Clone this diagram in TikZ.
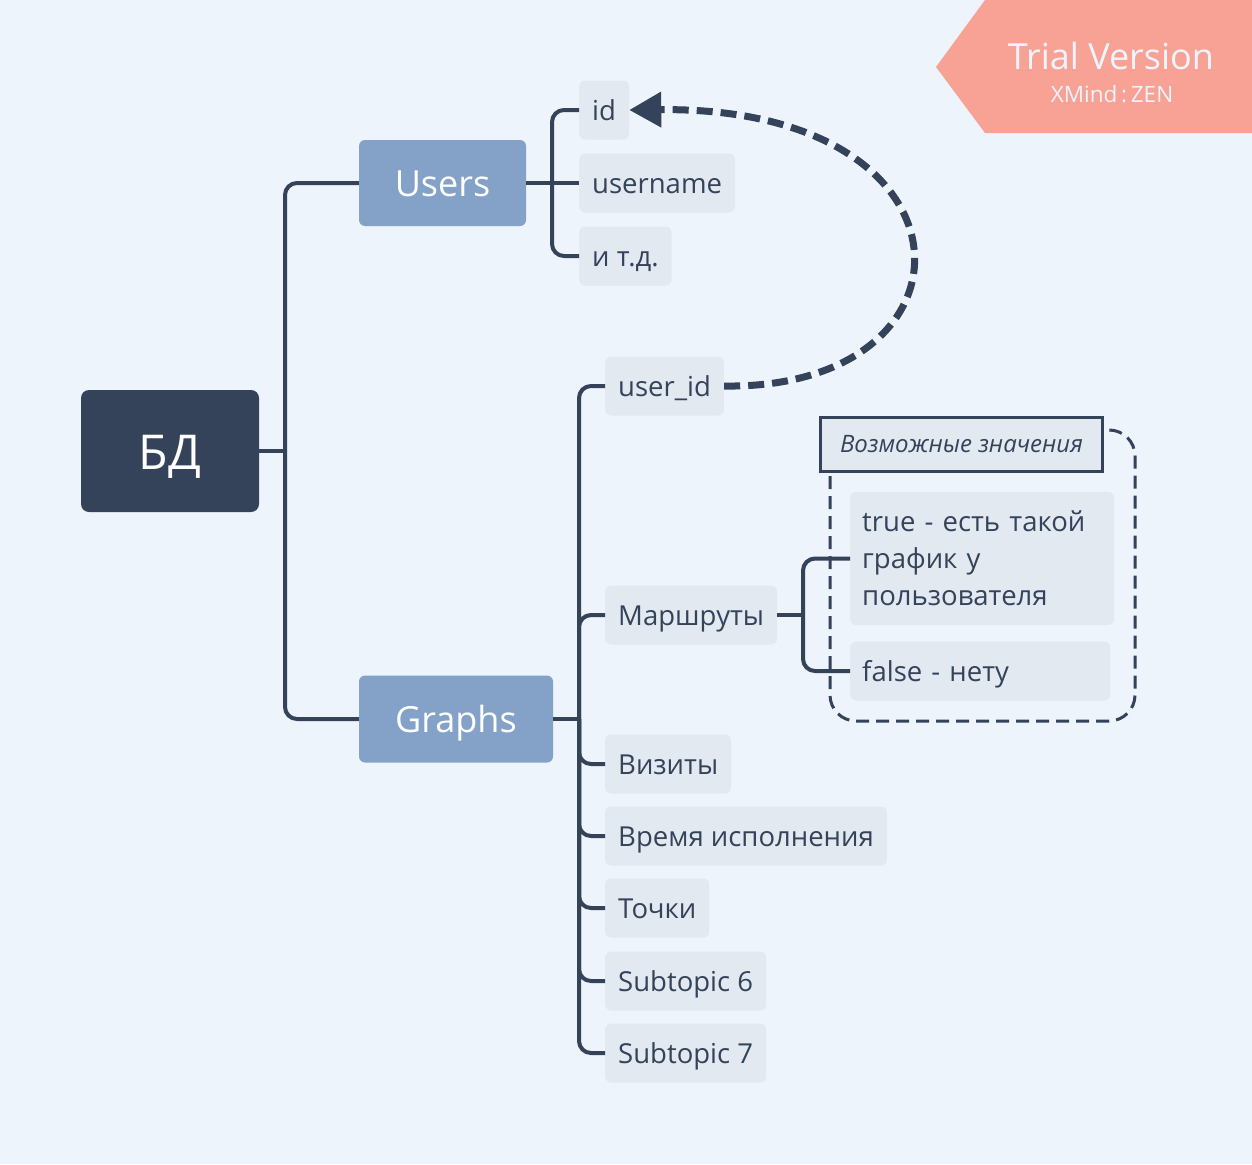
\documentclass[tikz,border=0pt]{standalone}
\usepackage{fontspec}
\setmainfont{Open Sans}
\usetikzlibrary{arrows.meta}
\definecolor{bg}{HTML}{EDF4FB}
\definecolor{dark}{HTML}{344359}
\definecolor{subfill}{HTML}{E2E9F1}
\definecolor{mainfill}{HTML}{84A2C8}
\definecolor{trial}{HTML}{F8A195}
\begin{document}
\begin{tikzpicture}[x=1pt,y=-1pt,
  conn/.style={draw=dark,line width=4pt,rounded corners=12pt},
  subbox/.style={fill=subfill,rounded corners=6pt,anchor=west,minimum height=59pt,inner xsep=13pt,inner ysep=0pt,text=dark,text height=20pt,text depth=0pt,font=\fontsize{27.5}{37}\selectfont},
  mainbox/.style={fill=mainfill,rounded corners=6pt,text=white,font=\fontsize{36}{40}\selectfont,inner sep=0pt,text height=26pt,text depth=0pt},
]
\useasboundingbox (0,0) rectangle (1252,1164);
\fill[bg] (0,0) rectangle (1252,1164);
% trial banner
\fill[trial] (936,67) -- (985,0) -- (1252,0) -- (1252,133) -- (985,133) -- cycle;
\node[text=bg,font=\fontsize{36}{38}\selectfont] (trialtxt) at (1111,56) {Trial Version};
\node[text=bg,font=\fontsize{22.5}{24}\selectfont] (xmind) at (1112,94) {XMind\,:\,ZEN};
% root
\node[fill=dark,rounded corners=8pt,minimum width=178pt,minimum height=122pt,text=white,font=\fontsize{48}{50}\selectfont,inner sep=0pt,text height=36pt,text depth=0pt] (bd) at (170,451) {БД};
\node[mainbox,minimum width=167pt,minimum height=86pt] (users) at (442.5,183) {Users};
\node[mainbox,minimum width=194pt,minimum height=87pt] (graphs) at (456,719) {Graphs};
% users children
\node[subbox] (id) at (579,110) {id};
\node[subbox] (username) at (579,183) {username};
\node[subbox] (etc) at (579,256) {и т.д.};
% graphs children
\node[subbox] (userid) at (605,386) {user\_id};
\node[subbox] (routes) at (605,615) {Маршруты};
\node[subbox] (visits) at (605,764) {Визиты};
\node[subbox] (time) at (605,836) {Время исполнения};
\node[subbox] (points) at (605,908) {Точки};
\node[subbox] (st6) at (605,981) {Subtopic 6};
\node[subbox] (st7) at (605,1053) {Subtopic 7};
% boundary
\draw[dark,line width=3pt,dash pattern=on 13pt off 7pt,rounded corners=26pt] (830,430) rectangle (1135,721);
\node[subbox,text width=240pt,align=left,minimum width=263pt,minimum height=133pt,text height=,text depth=,inner xsep=12pt] (true) at (850,558.5) {true - есть~такой\\график у\\пользователя};
\node[subbox,minimum width=260pt,align=left,text width=236pt,inner xsep=12pt] (false) at (850,671) {false - нету};
\node[draw=dark,line width=3pt,fill=subfill,minimum width=282pt,minimum height=54pt,inner sep=0pt,text=dark,font=\fontsize{24}{26}\selectfont\itshape] (bound) at (961.5,444.5) {Возможные значения};
% connectors
\coordinate (j1) at (285,451);
\coordinate (j2) at (552,183);
\coordinate (j3) at (579,719);
\coordinate (j4) at (803,615);
\draw[conn] (bd.east) -- (j1);
\draw[conn] (j1) |- (users.west);
\draw[conn] (j1) |- (graphs.west);
\draw[conn] (users.east) -- (username.west);
\draw[conn] (j2) |- (id.west);
\draw[conn] (j2) |- (etc.west);
\draw[conn] (graphs.east) -- (j3);
\foreach \n in {userid,routes,visits,time,points,st6,st7}{
  \draw[conn] (j3) |- (\n.west);
}
\draw[conn] (routes.east) -- (j4);
\draw[conn] (j4) |- (true.west);
\draw[conn] (j4) |- (false.west);
% relationship
\draw[dark,line width=7pt,dash pattern=on 16pt off 8pt,-{Triangle[length=32pt,width=34pt]}] (userid.east) .. controls (988,390) and (988,106) .. (id.east);
\end{tikzpicture}
\end{document}
